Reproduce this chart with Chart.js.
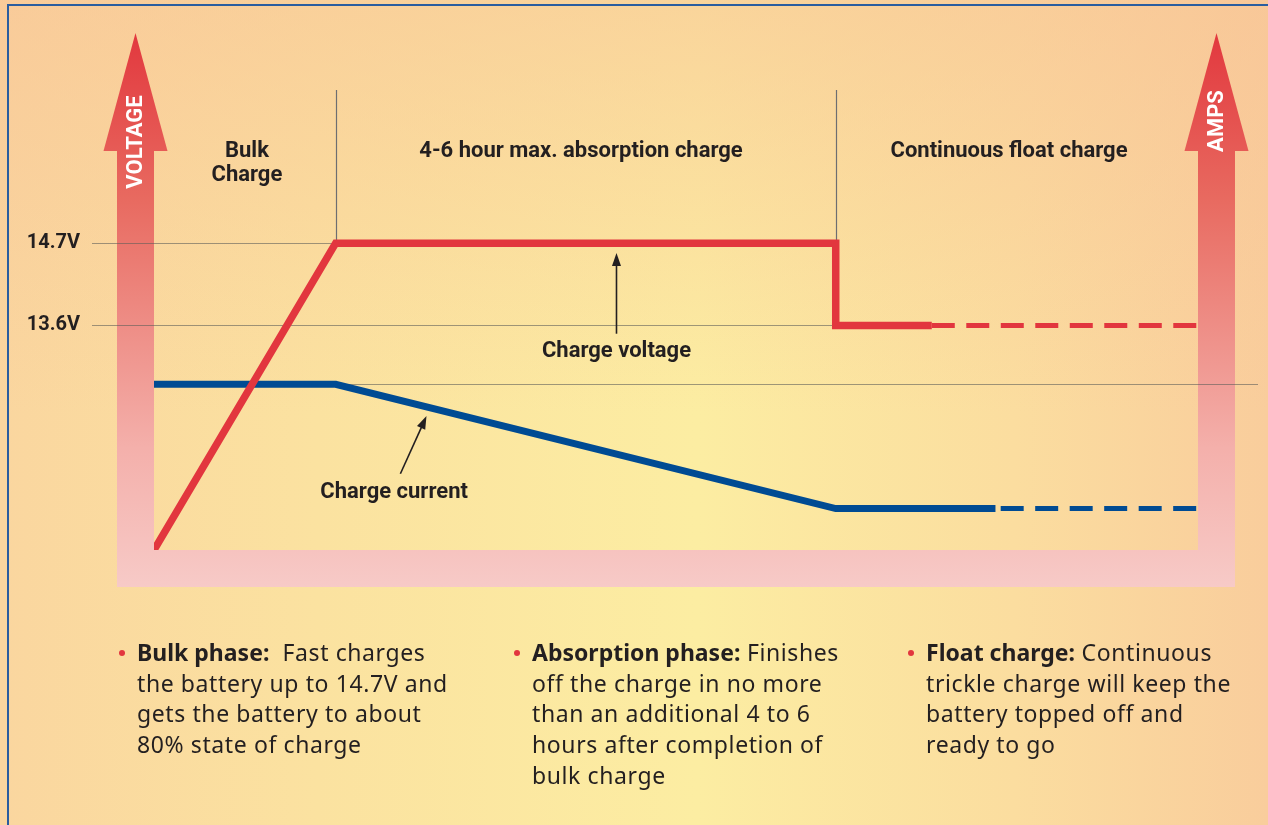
<!DOCTYPE html>
<html>
<head>
<meta charset="utf-8">
<script src="https://cdn.jsdelivr.net/npm/chart.js@4"></script>
<style>
  html, body { margin: 0; padding: 0; }
  body {
    width: 1268px; height: 825px; overflow: hidden; position: relative;
    background:
      linear-gradient(180deg, rgba(248,196,150,0.6) 0%, rgba(248,196,150,0) 50%),
      linear-gradient(90deg, #fad69f 0%, #fbe2a0 25%, #fceda2 55%, #fbdd9f 80%, #f9cd9c 100%);
  }
  #frame { position: absolute; left: 7px; top: 4px; right: -2px; bottom: -2px;
    border-top: 2px solid #2a5d9f; border-left: 2px solid #2a5d9f; }
  #chart { position: absolute; left: 0; top: 0; }
  .note { position: absolute; top: 637px; font-family: "Noto Sans", sans-serif; font-size: 23px;
    letter-spacing: 0.6px; line-height: 30.7px; color: #231f20; white-space: nowrap; }
  .note b { letter-spacing: 0; }
  .note .dot { position: absolute; left: -18px; top: 13px; width: 6px; height: 6px; border-radius: 50%; background: #e2363e; }
</style>
</head>
<body>
<div id="frame"></div>
<canvas id="chart" width="1268" height="825"></canvas>

<div class="note" style="left:137px"><span class="dot"></span><b>Bulk phase:</b>&nbsp; Fast charges<br>the battery up to 14.7V and<br>gets the battery to about<br>80% state of charge</div>
<div class="note" style="left:532px"><span class="dot"></span><b>Absorption phase:</b> Finishes<br>off the charge in no more<br>than an additional 4 to 6<br>hours after completion of<br>bulk charge</div>
<div class="note" style="left:926px"><span class="dot"></span><b>Float charge:</b> Continuous<br>trickle charge will keep the<br>battery topped off and<br>ready to go</div>

<script>
// time axis runs 0..100 across the plot, voltage in volts, current in amps
const voltageX = [0, 17.4, 65.3, 65.3, 74.5];
const voltageY = [10.6, 14.7, 14.7, 13.6, 13.6];
const floatVoltageX = [74.5, 100];
const floatVoltageY = [13.6, 13.6];

const currentX = [0, 17.4, 65.3, 80.6];
const currentY = [10, 10, 2.5, 2.5];
const floatCurrentX = [81.1, 100];
const floatCurrentY = [2.5, 2.5];

const voltageTicks = [13.6, 14.7];
const phaseBounds = [17.4, 65.3];
const phaseLabels = [['Bulk', 'Charge'], ['4-6 hour max. absorption charge'], ['Continuous float charge']];
const phaseLabelX = [8.9, 40.9, 81.9];
const phaseLabelY = 15.93;

const RED = '#e2363e';
const BLUE = '#004b93';
const INK = '#231f20';

function toPoints(xs, ys) {
    return xs.map((x, i) => ({ x, y: ys[i] }));
}

function drawArrow(ctx, x1, y1, x2, y2) {
    const ang = Math.atan2(y2 - y1, x2 - x1);
    const len = 13, half = 4.5;
    ctx.strokeStyle = INK;
    ctx.fillStyle = INK;
    ctx.lineWidth = 1.6;
    ctx.beginPath();
    ctx.moveTo(x1, y1);
    ctx.lineTo(x2 - Math.cos(ang) * len * 0.8, y2 - Math.sin(ang) * len * 0.8);
    ctx.stroke();
    ctx.beginPath();
    ctx.moveTo(x2, y2);
    ctx.lineTo(x2 - Math.cos(ang) * len - Math.sin(ang) * half, y2 - Math.sin(ang) * len + Math.cos(ang) * half);
    ctx.lineTo(x2 - Math.cos(ang) * len + Math.sin(ang) * half, y2 - Math.sin(ang) * len - Math.cos(ang) * half);
    ctx.closePath();
    ctx.fill();
}

const diagramPlugin = {
    id: 'diagram',
    beforeDatasetsDraw(chart) {
        const { ctx, chartArea: a, scales } = chart;
        const shaft = 37, headHalf = 32;
        const tipY = a.top - 53, headBase = a.top + 65;

        // U shaped axis arrows
        const grad = ctx.createLinearGradient(0, tipY, 0, a.bottom + shaft);
        grad.addColorStop(0, '#e2383e');
        grad.addColorStop(0.3, '#e86a60');
        grad.addColorStop(0.75, '#f4b0ab');
        grad.addColorStop(1, '#f7cac7');
        ctx.save();
        ctx.fillStyle = grad;
        ctx.fillRect(a.left - shaft, headBase, shaft, a.bottom + shaft - headBase);
        ctx.fillRect(a.right, headBase, shaft, a.bottom + shaft - headBase);
        ctx.fillRect(a.left, a.bottom, a.right - a.left, shaft);
        [a.left - shaft / 2, a.right + shaft / 2].forEach(cx => {
            ctx.beginPath();
            ctx.moveTo(cx, tipY);
            ctx.lineTo(cx + headHalf, headBase);
            ctx.lineTo(cx - headHalf, headBase);
            ctx.closePath();
            ctx.fill();
        });

        ctx.fillStyle = '#ffffff';
        ctx.font = 'bold 22px Roboto';
        ctx.textAlign = 'center';
        ctx.textBaseline = 'middle';
        [['VOLTAGE', a.left - shaft / 2, a.top + 56], ['AMPS', a.right + shaft / 2, a.top + 35]].forEach(([t, cx, cy]) => {
            ctx.save();
            ctx.translate(cx, cy);
            ctx.rotate(-Math.PI / 2);
            ctx.fillText(t, 0, 1);
            ctx.restore();
        });

        // reference lines
        const x = scales.x, y = scales.y, y2 = scales.y2;
        ctx.strokeStyle = 'rgba(95,95,90,0.6)';
        ctx.lineWidth = 1.2;
        const refs = [
            [a.left - 62, x.getPixelForValue(phaseBounds[0]), y.getPixelForValue(voltageTicks[1])],
            [a.left - 62, x.getPixelForValue(phaseBounds[1]), y.getPixelForValue(voltageTicks[0])],
            [a.left, a.right + 60, y2.getPixelForValue(currentY[0])]
        ];
        refs.forEach(([x1, x2, yy]) => {
            ctx.beginPath();
            ctx.moveTo(x1, Math.round(yy) + 0.5);
            ctx.lineTo(x2, Math.round(yy) + 0.5);
            ctx.stroke();
        });

        ctx.strokeStyle = '#6d6e71';
        phaseBounds.forEach(b => {
            const px = Math.round(x.getPixelForValue(b)) + 0.5;
            ctx.beginPath();
            ctx.moveTo(px, a.top + 4);
            ctx.lineTo(px, y.getPixelForValue(voltageTicks[1]));
            ctx.stroke();
        });
        ctx.restore();
    },
    afterDatasetsDraw(chart) {
        const { ctx, scales } = chart;
        const x = scales.x, y = scales.y, y2 = scales.y2;
        ctx.save();
        ctx.fillStyle = INK;
        ctx.font = 'bold 22px Roboto';
        ctx.textAlign = 'center';
        ctx.textBaseline = 'middle';
        phaseLabels.forEach((lines, i) => {
            lines.forEach((t, j) => {
                ctx.fillText(t, x.getPixelForValue(phaseLabelX[i]), y.getPixelForValue(phaseLabelY) + j * 24);
            });
        });

        ctx.fillText('Charge voltage', x.getPixelForValue(44.3), y.getPixelForValue(13.25));
        drawArrow(ctx, x.getPixelForValue(44.3), y.getPixelForValue(13.49), x.getPixelForValue(44.3), y.getPixelForValue(14.57));
        ctx.fillStyle = INK;
        ctx.fillText('Charge current', x.getPixelForValue(23.0), y2.getPixelForValue(3.5));
        drawArrow(ctx, x.getPixelForValue(23.6), y2.getPixelForValue(4.6), x.getPixelForValue(26.1), y2.getPixelForValue(8.08));
        ctx.restore();
    }
};

const lineStyle = { pointRadius: 0, tension: 0, fill: false, borderJoinStyle: 'miter', borderCapStyle: 'butt', clip: 0 };

new Chart(document.getElementById('chart'), {
    type: 'line',
    data: {
        datasets: [
            { ...lineStyle, label: 'Charge voltage', data: toPoints(voltageX, voltageY), yAxisID: 'y', borderColor: RED, borderWidth: 7.5 },
            { ...lineStyle, label: 'Float voltage', data: toPoints(floatVoltageX, floatVoltageY), yAxisID: 'y', borderColor: RED, borderWidth: 5, borderDash: [23, 11.5] },
            { ...lineStyle, label: 'Charge current', data: toPoints(currentX, currentY), yAxisID: 'y2', borderColor: BLUE, borderWidth: 7 },
            { ...lineStyle, label: 'Float current', data: toPoints(floatCurrentX, floatCurrentY), yAxisID: 'y2', borderColor: BLUE, borderWidth: 5, borderDash: [23, 11.5] }
        ]
    },
    options: {
        responsive: false,
        animation: false,
        layout: { padding: { top: 82, right: 70, bottom: 275, left: 0 } },
        plugins: { legend: { display: false }, tooltip: { enabled: false } },
        scales: {
            x: { type: 'linear', min: 0, max: 100, display: false },
            y: {
                position: 'left', min: 10.6, max: 16.8,
                afterBuildTicks: s => { s.ticks = voltageTicks.map(v => ({ value: v })); },
                afterFit: s => { s.width = 154; },
                grid: { display: false, drawTicks: false },
                border: { display: false },
                ticks: {
                    padding: 74, color: INK,
                    font: { family: 'Roboto', weight: 'bold', size: 20 },
                    callback: v => v.toFixed(1) + 'V'
                }
            },
            y2: { position: 'right', min: 0, max: 28, display: false }
        }
    },
    plugins: [diagramPlugin]
});
</script>
</body>
</html>
